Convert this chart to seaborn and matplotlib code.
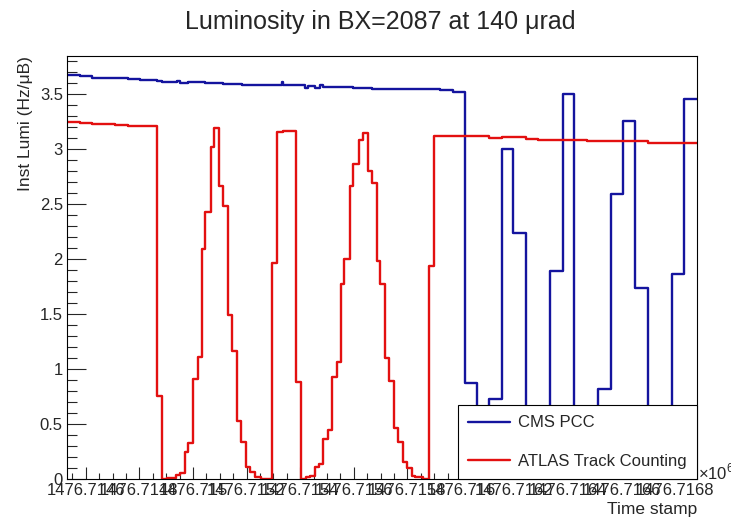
#!/usr/bin/env python3
"""Luminosity in BX=2087: CMS PCC vs ATLAS track counting (ROOT-style step histos)."""
import numpy as np
import pandas as pd
import matplotlib
matplotlib.use("Agg")
import matplotlib.pyplot as plt
from matplotlib.lines import Line2D
from matplotlib.ticker import MultipleLocator, FuncFormatter
import seaborn as sns

# time axis: seconds since T0 (unix time)
T0 = 1476714530
X_SPAN = 2351

# CMS PCC histogram (bin edges in s after T0, contents in Hz/uB)
cms_edges = [0, 49, 92, 229, 273, 335, 353, 409, 422, 453, 515, 540, 583, 652,
             801, 807, 888, 900, 926, 944, 956, 1068, 1137, 1168, 1236, 1392,
             1442, 1485, 1529, 1576, 1622, 1666, 1713, 1802, 1850, 1893, 1983,
             2030, 2075, 2120, 2169, 2257, 2304, 2351]
cms_vals = [3.673, 3.667, 3.642, 3.634, 3.625, 3.615, 3.612, 3.62, 3.6, 3.605,
            3.597, 3.6, 3.59, 3.585, 3.605, 3.58, 3.555, 3.576, 3.553, 3.578,
            3.565, 3.557, 3.542, 3.548, 3.542, 3.533, 3.518, 0.875, 0.3, 0.727,
            3.0, 2.233, 0.3, 1.89, 3.497, 0.3, 0.82, 2.59, 3.257, 1.733, 0.3,
            1.866, 3.455]

# ATLAS track counting histogram
atlas_edges = [0, 49, 92, 179, 229, 337, 353, 372, 407, 422, 440, 453, 471, 488,
               503, 515, 536, 549, 567, 583, 600, 615, 633, 648, 668, 683, 702,
               723, 764, 783, 805, 855, 873, 891, 907, 926, 940, 956, 973, 988,
               1006, 1021, 1034, 1056, 1068, 1090, 1103, 1123, 1137, 1156, 1168,
               1187, 1203, 1220, 1234, 1255, 1268, 1286, 1299, 1330, 1352, 1370,
               1576, 1622, 1713, 1759, 1939, 2169, 2351]
atlas_vals = [3.243, 3.235, 3.227, 3.22, 3.205, 0.757, 0.0, 0.01, 0.04, 0.055,
              0.243, 0.33, 0.906, 1.106, 2.088, 2.424, 3.02, 3.19, 2.667, 2.48,
              1.49, 1.166, 0.527, 0.34, 0.112, 0.06, 0.015, 0.0, 1.967, 3.158,
              3.166, 0.885, 0.0, 0.02, 0.03, 0.11, 0.135, 0.36, 0.445, 0.93,
              1.066, 1.77, 2.0, 2.664, 2.86, 3.082, 3.142, 2.8, 2.694, 1.985,
              1.77, 1.103, 0.894, 0.46, 0.34, 0.155, 0.097, 0.03, 0.02, 0.0,
              1.94, 3.118, 3.103, 3.112, 3.094, 3.085, 3.073, 3.058]

CMS_COL = "#14149e"
ATLAS_COL = "#e31010"


def step_hist(ax, edges, vals, color):
    e = T0 + np.asarray(edges, dtype=float)
    df = pd.DataFrame({"t": 0.5 * (e[:-1] + e[1:]), "lumi": vals})
    sns.histplot(data=df, x="t", weights="lumi", bins=e.tolist(), element="step",
                 fill=False, color=color, linewidth=1.7, ax=ax)


sns.set_style("ticks")
plt.rcParams["font.family"] = ["Liberation Sans", "DejaVu Sans"]
plt.rcParams["mathtext.fontset"] = "custom"
plt.rcParams["mathtext.rm"] = "Liberation Sans"

fig = plt.figure(figsize=(7.31, 5.18), dpi=100)
ax = fig.add_axes([67 / 731, 39 / 518, 630 / 731, 423 / 518])

step_hist(ax, cms_edges, cms_vals, CMS_COL)
step_hist(ax, atlas_edges, atlas_vals, ATLAS_COL)

ax.set_xlim(T0, T0 + X_SPAN)
ax.set_ylim(0, 3.845)

ax.xaxis.set_major_locator(MultipleLocator(200))
ax.xaxis.set_minor_locator(MultipleLocator(50))
ax.xaxis.set_major_formatter(FuncFormatter(lambda v, p: f"{v / 1e6:.8g}"))
ax.yaxis.set_major_locator(MultipleLocator(0.5))
ax.yaxis.set_minor_locator(MultipleLocator(0.1))
ax.yaxis.set_major_formatter(FuncFormatter(lambda v, p: f"{v:g}"))

ax.tick_params(axis="x", which="major", direction="in", length=9, width=0.8,
               labelsize=12, pad=3, top=False)
ax.tick_params(axis="x", which="minor", direction="in", length=4.5, width=0.8, top=False)
ax.tick_params(axis="y", which="major", direction="in", length=14, width=0.8,
               labelsize=12, pad=3, right=False)
ax.tick_params(axis="y", which="minor", direction="in", length=7, width=0.8, right=False)
for s in ax.spines.values():
    s.set_visible(True)
    s.set_color("black")
    s.set_linewidth(0.8)

ax.set_ylabel("Inst Lumi (Hz/μB)", fontsize=12.5, loc="top")
ax.yaxis.set_label_coords(-0.054, 1.0)
ax.set_xlabel("Time stamp", fontsize=12.5, loc="right")
ax.xaxis.set_label_coords(1.0, -0.054)
ax.text(1.0015, 0.017, r"$\times10^{6}$", transform=ax.transAxes,
        fontsize=12, ha="left", va="center")

fig.text(380 / 731, 1 - 22 / 518, "Luminosity in BX=2087 at 140 μrad",
         fontsize=18, ha="center", va="center")

handles = [Line2D([], [], color=CMS_COL, lw=1.7),
           Line2D([], [], color=ATLAS_COL, lw=1.7)]
leg = ax.legend(handles, ["CMS PCC", "ATLAS Track Counting"], loc="lower right",
                bbox_to_anchor=(1.0, 0.0), borderaxespad=0, fontsize=12,
                frameon=True, fancybox=False, framealpha=1, edgecolor="black",
                borderpad=0.62, labelspacing=1.4, handlelength=2.5,
                handletextpad=0.5)
leg.get_frame().set_linewidth(0.8)

fig.savefig("out.png", dpi=100)
